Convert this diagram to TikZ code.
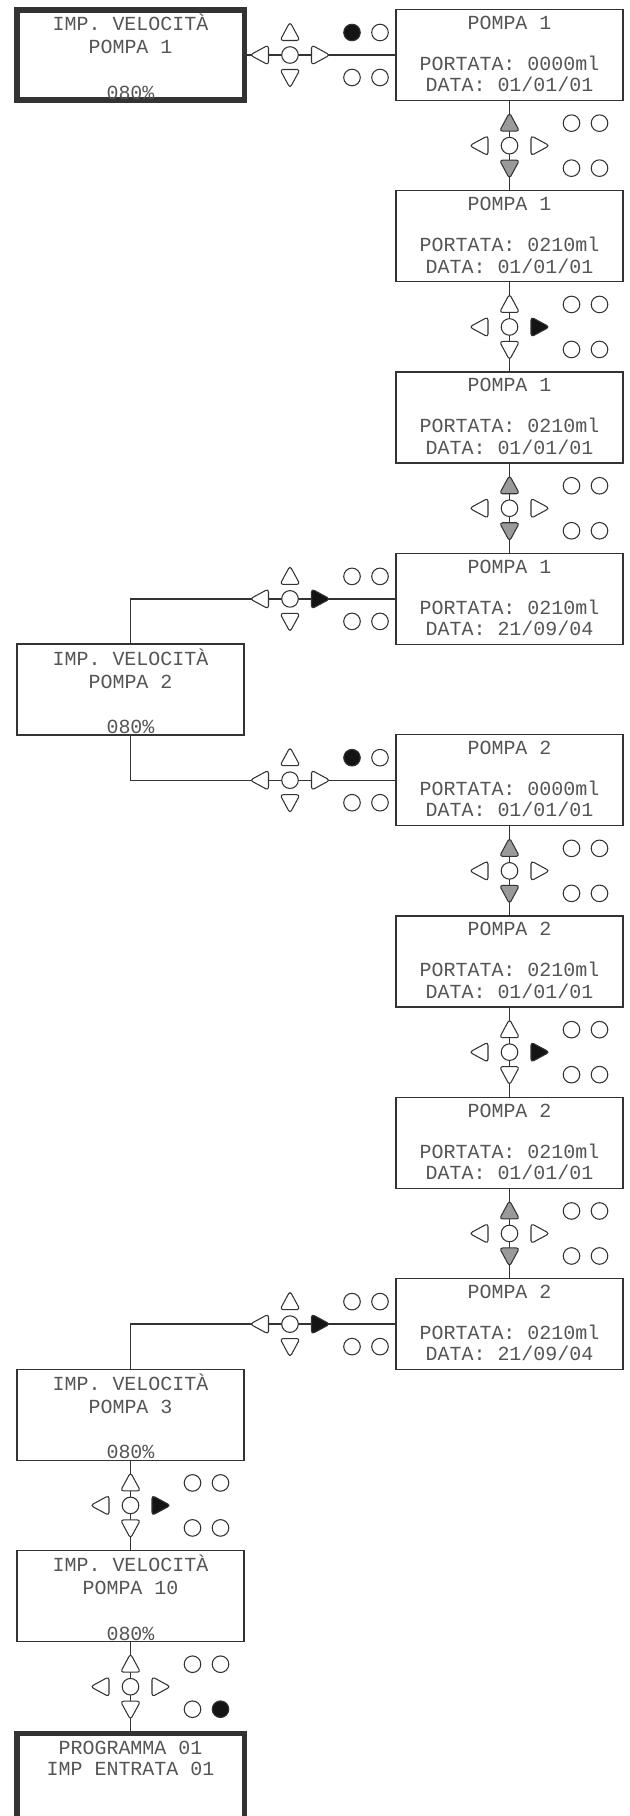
\documentclass[tikz,border=0pt]{standalone}
\usepackage{fontspec}
\usepackage{tikz}
\usetikzlibrary{positioning, calc}
\newfontfamily\lcd{Liberation Mono}
\definecolor{linea}{HTML}{333333}
\definecolor{grigio}{HTML}{9A9A9A}
\definecolor{nero}{HTML}{141414}
\definecolor{testo}{HTML}{555555}

\tikzset{
  schermo/.style={draw=linea, line width=0.9pt, minimum width=5.675cm, minimum height=2.275cm, inner sep=0pt, outer sep=0pt},
  schermoK/.style={schermo, line width=3.6pt, minimum height=2.25cm},
  riga/.style={font=\lcd\fontsize{14.2}{17}\selectfont, text=testo, anchor=base, inner sep=0pt},
  filo/.style={draw=linea, line width=1pt},
  tasto/.style={draw=linea, line width=0.75pt},
  freccia/.pic={\path[pic actions, rounded corners=2.2pt] (0,-10) -- (10,8.5) -- (-10,8.5) -- cycle;}
}

% schermo velocita: nome, stile, y, pompa
\newcommand{\velo}[4]{%
  \node[#2] (#1) at (130.5,#3) {};
  \node[riga] (#1t1) at ($(#1.center)+(0,-24.3)$) {IMP. VELOCITÀ};
  \node[riga] (#1t2) at ($(#1.center)+(0,-1.3)$) {POMPA #4};
  \node[riga] (#1t3) at ($(#1.center)+(0,44.2)$) {080\%};
}
% schermo pompa: nome, y, pompa, portata, data
\newcommand{\pompa}[5]{%
  \node[schermo] (#1) at (509.5,#2) {};
  \node[riga] (#1t1) at ($(#1.center)+(0,-25.8)$) {POMPA #3};
  \node[riga] (#1t2) at ($(#1.center)+(0,15.2)$) {PORTATA: #4ml};
  \node[riga] (#1t3) at ($(#1.center)+(0,36.7)$) {DATA: #5};
}
% tastiera: centro, su, giu, sinistra, destra, led acceso (0 nessuno)
\newcommand{\tastiera}[6]{%
  \begin{scope}[shift={(#1)}]
    \pic[tasto, fill=#2] at (0,-23) {freccia};
    \pic[tasto, fill=#3, rotate=180] at (0,23) {freccia};
    \pic[tasto, fill=#4, rotate=90] at (-30,0) {freccia};
    \pic[tasto, fill=#5, rotate=-90] at (30,0) {freccia};
    \draw[tasto, fill=white] (0,0) circle (8.3);
    \foreach \lx/\ly [count=\n] in {62/-22.5, 90/-22.5, 62/22.5, 90/22.5}{
      \ifnum\n=#6 \def\led{nero}\else\def\led{white}\fi
      \draw[tasto, fill=\led] (\lx,\ly) circle (8.3);
    }
  \end{scope}}

\begin{document}
\begin{tikzpicture}[x=0.025cm, y=-0.025cm]
  \useasboundingbox (0,0) rectangle (630,1816);

  % colonna sinistra
  \velo{v1}{schermoK}{55}{1}
  \velo{v2}{schermo}{689.55}{2}
  \velo{v3}{schermo}{1414.75}{3}
  \velo{v10}{schermo}{1596.05}{10}
  \node[schermoK] (prog) at (130.5,1778.5) {};
  \node[riga] (progt1) at ($(prog.center)+(0,-24.5)$) {PROGRAMMA 01};
  \node[riga] (progt2) at ($(prog.center)+(0,-2.8)$) {IMP ENTRATA 01};

  % colonna destra
  \pompa{p1a}{55}{1}{0000}{01/01/01}
  \pompa{p1b}{236.3}{1}{0210}{01/01/01}
  \pompa{p1c}{417.6}{1}{0210}{01/01/01}
  \pompa{p1d}{598.9}{1}{0210}{21/09/04}
  \pompa{p2a}{780.2}{2}{0000}{01/01/01}
  \pompa{p2b}{961.5}{2}{0210}{01/01/01}
  \pompa{p2c}{1142.8}{2}{0210}{01/01/01}
  \pompa{p2d}{1324.1}{2}{0210}{21/09/04}

  % collegamenti
  \draw[filo] (v1.east) -- (p1a.west);
  \draw[filo] (p1a.south) -- (p1b.north);
  \draw[filo] (p1b.south) -- (p1c.north);
  \draw[filo] (p1c.south) -- (p1d.north);
  \draw[filo] (p1d.west) -| (v2.north);
  \draw[filo] (v2.south) |- (p2a.west);
  \draw[filo] (p2a.south) -- (p2b.north);
  \draw[filo] (p2b.south) -- (p2c.north);
  \draw[filo] (p2c.south) -- (p2d.north);
  \draw[filo] (p2d.west) -| (v3.north);
  \draw[filo] (v3.south) -- (v10.north);
  \draw[filo] (v10.south) -- (prog.north);

  % tastiere
  \tastiera{290,55}{white}{white}{white}{white}{1}
  \tastiera{509.5,145.65}{grigio}{grigio}{white}{white}{0}
  \tastiera{509.5,326.95}{white}{white}{white}{nero}{0}
  \tastiera{509.5,508.25}{grigio}{grigio}{white}{white}{0}
  \tastiera{290,598.9}{white}{white}{white}{nero}{0}
  \tastiera{290,780.2}{white}{white}{white}{white}{1}
  \tastiera{509.5,870.85}{grigio}{grigio}{white}{white}{0}
  \tastiera{509.5,1052.15}{white}{white}{white}{nero}{0}
  \tastiera{509.5,1233.45}{grigio}{grigio}{white}{white}{0}
  \tastiera{290,1324.1}{white}{white}{white}{nero}{0}
  \tastiera{130.5,1505.4}{white}{white}{white}{nero}{0}
  \tastiera{130.5,1686.7}{white}{white}{white}{white}{4}
\end{tikzpicture}
\end{document}
